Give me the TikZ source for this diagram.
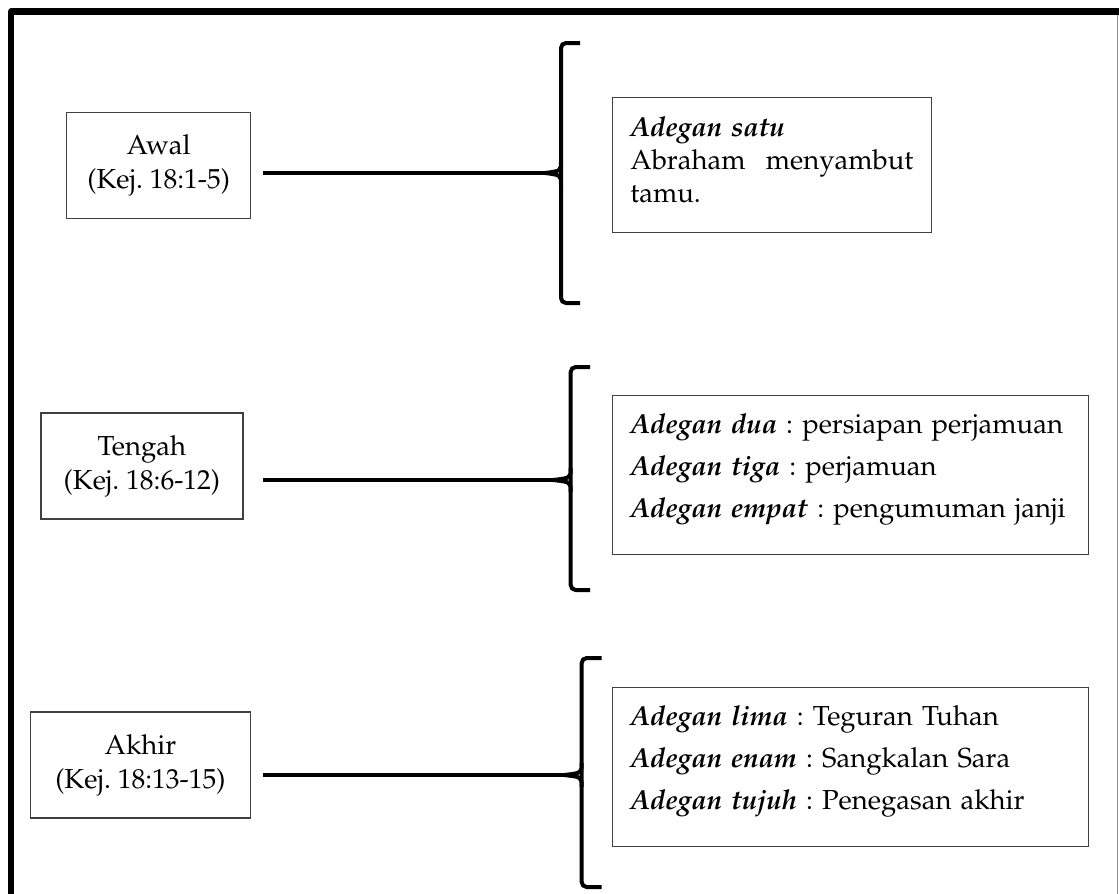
\documentclass[tikz,border=0pt]{standalone}
\usepackage[T1]{fontenc}
\usepackage{mathpazo}
\usetikzlibrary{positioning}
\frenchspacing
\newcommand{\adegan}[1]{\textbf{\textit{#1}}}
\tikzset{
	part/.style={draw=black!75, line width=1.3pt, align=center, minimum height=106pt, inner sep=0pt, font=\fontsize{27.5}{34}\selectfont},
	scene/.style={draw=black!75, line width=1.3pt, anchor=north west, align=left, inner xsep=18pt, inner ysep=14pt},
	link/.style={line width=4pt},
	brace/.style={line width=4pt, rounded corners=5pt},
	frame/.style={line width=6.4pt, line join=round}
}

\begin{document}
\begin{tikzpicture}[x=1pt, y=-1pt]
		\useasboundingbox (0,0) rectangle (1119,894);

		% Frame
		\draw[frame] (11.2,894) -- (11.2,11.5) -- (1119,11.5);
		\draw[black!45, line width=1.2pt] (1117.7,14.7) -- (1117.7,894);

		% Parts
		\node (awal) [part, minimum width=184pt] at (158.7,165.4) {Awal\\(Kej. 18:1-5)};
		\node (tengah) [part, minimum width=202pt] at (141.9,466) {Tengah\\(Kej. 18:6-12)};
		\node (akhir) [part, minimum width=220pt] at (140.4,765) {Akhir\\(Kej. 18:13-15)};

		% Scenes
		\node (satu) [scene, text width=283pt, text height=25.3pt, text depth=81.7pt, font=\fontsize{27.5}{33}\selectfont] at (611.7,96.7)
			{\adegan{Adegan satu}\\Abraham\hfill menyambut\\tamu.};
		\node (dua) [scene, text width=440pt, text height=24pt, text depth=107pt, font=\fontsize{27.5}{42}\selectfont] at (611.7,395)
			{\adegan{Adegan dua} : persiapan perjamuan\\\adegan{Adegan tiga} : perjamuan\\\adegan{Adegan empat} : pengumuman janji};
		\node (lima) [scene, text width=440pt, text height=24.3pt, text depth=106.7pt, font=\fontsize{27.5}{42}\selectfont] at (611.7,686.7)
			{\adegan{Adegan lima} : Teguran Tuhan\\\adegan{Adegan enam} : Sangkalan Sara\\\adegan{Adegan tujuh} : Penegasan akhir};

		% Braces
		\coordinate (tip1) at (545,173);
		\coordinate (tip2) at (553,480);
		\coordinate (tip3) at (564,775);
		\draw[brace] (580,43) -- (561,43) -- (561,303) -- (580,303);
		\draw[brace, rounded corners=0] (561,161) .. controls (561,171) .. (tip1) .. controls (561,175) .. (561,185);
		\draw[brace] (590,367) -- (570.7,367) -- (570.7,590) -- (590,590);
		\draw[brace, rounded corners=0] (570.7,468) .. controls (570.7,478) .. (tip2) .. controls (570.7,482) .. (570.7,492);
		\draw[brace] (601.7,658) -- (581.7,658) -- (581.7,887) -- (601.7,887);
		\draw[brace, rounded corners=0] (581.7,763) .. controls (581.7,773) .. (tip3) .. controls (581.7,777) .. (581.7,787);

		% Connectors
		\coordinate (lx) at (263,0);
		\draw[link] (lx |- tip1) -- (tip1);
		\draw[link] (lx |- tip2) -- (tip2);
		\draw[link] (lx |- tip3) -- (tip3);

\end{tikzpicture}
\end{document}
